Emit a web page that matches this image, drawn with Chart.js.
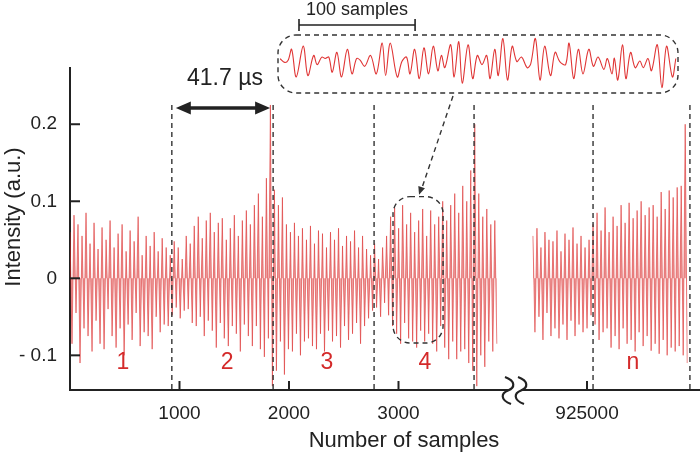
<!DOCTYPE html>
<html>
<head>
<meta charset="utf-8">
<script src="https://cdn.jsdelivr.net/npm/chart.js@4.4.0/dist/chart.umd.min.js"></script>
<style>
    html, body { margin: 0; padding: 0; background: #fff; }
    #marco { position: relative; width: 700px; height: 456px; }
    #marco canvas { position: absolute; }
</style>
</head>
<body>
<div id="marco">
    <canvas id="graficaTramo1" width="700" height="456" style="left:0;top:0"></canvas>
    <canvas id="graficaTramo2" width="700" height="456" style="left:0;top:0"></canvas>
    <canvas id="graficaDetalle" width="397" height="56" style="left:280px;top:33px"></canvas>
</div>
<script>
// Intensidad (a.u.), una muestra dibujada cada pasoMuestras
var pasoMuestras = 18.3;

var inicioTramo1 = 0;
var senalTramo1 = [
    .060, -.085, .082, -.045, .070, -.110, .055, -.065, .085, -.075,
    .045, -.095, .072, -.055, .038, -.085, .066, -.092, .050, -.040,
    .075, -.075, .040, -.090, .058, -.065, .070, -.100, .035, -.060,
    .062, -.080, .048, -.045, .080, -.088, .030, -.070, .055, -.075,
    .042, -.092, .060, -.050, .035, -.070, .052, -.060, .040, -.062,
    .030, -.048, .048, -.038, .040, -.052, .025, -.042, .055, -.040,
    .045, -.058, .068, -.062, .080, -.050, .052, -.075, .075, -.055,
    .085, -.068, .060, -.090, .072, -.058, .078, -.078, .050, -.088,
    .065, -.062, .082, -.072, .055, -.095, .075, -.060, .088, -.075,
    .070, -.088, .095, -.062, .110, -.092, .080, -.102, .130, -.078,
    .225, -.140, .115, -.120, .095, -.082, .105, -.125, .070, -.092,
    .060, -.095, .072, -.072, .055, -.100, .065, -.082, .050, -.078,
    .068, -.088, .045, -.092, .062, -.072, .058, -.095, .040, -.068,
    .060, -.082, .050, -.075, .065, -.090, .042, -.062, .055, -.080,
    .048, -.072, .062, -.058, .040, -.085, .055, -.062, .038, -.052,
    .030, -.042, .045, -.038, .025, -.050, .040, -.032, .055, -.048,
    .080, -.062, .092, -.072, .065, -.085, .095, -.058, .070, -.078,
    .085, -.082, .060, -.090, .075, -.068, .090, -.082, .055, -.072,
    .088, -.085, .070, -.095, .080, -.062, .100, -.090, .075, -.105,
    .095, -.082, .110, -.105, .085, -.095, .120, -.092, .100, -.110,
    .140, -.120, .200, -.140, .110, -.100, .080, -.115, .090, -.082,
    .070, -.095, .075, -.085
];

var inicioTramo2 = 924506;
var senalTramo2 = [
    .055, -.070, .065, -.050, .040, -.080, .060, -.045, .050, -.075,
    .048, -.065, .062, -.078, .035, -.060, .058, -.080, .050, -.055,
    .066, -.075, .045, -.060, .055, -.070, .040, -.065, .050, -.048,
    .070, -.060, .085, -.080, .062, -.070, .092, -.065, .060, -.090,
    .080, -.075, .068, -.092, .095, -.065, .072, -.085, .098, -.080,
    .078, -.095, .088, -.070, .100, -.088, .082, -.075, .092, -.094,
    .095, -.085, .080, -.098, .112, -.080, .090, -.100, .114, -.090,
    .105, -.095, .118, -.088, .120, -.100, .200, -.110
];

var ticksY = [-0.1, 0, 0.1, 0.2];
var ticksTramo1 = [1000, 2000, 3000];
var ticksTramo2 = [925000];

// lineas discontinuas entre pulsos y numero de cada tramo
var marcasTramo1 = [930, 1855, 2777, 3690];
var marcasTramo2 = [925055, 925940];
var etiquetasTramo1 = ['1', '2', '3', '4'];
var centrosTramo1 = [484, 1434, 2347, 3242];
var etiquetasTramo2 = ['n'];
var centrosTramo2 = [925420];

// detalle ampliado (muestra relativa, intensidad)
var muestrasDetalle = [0, 4, 7, 10, 14, 20, 24, 29, 32, 36, 39, 42, 45, 49, 53, 58, 62, 66, 69, 73,
    78, 83, 88, 91, 95, 101, 105, 109, 112, 116, 120, 124, 128, 132, 136, 139, 142, 147, 150, 154,
    157, 162, 166, 170, 174, 178, 181, 185, 188, 192, 196, 200, 204, 208, 213, 216, 220, 224, 228, 233,
    237, 241, 246, 249, 253, 257, 261, 266, 270, 274, 279, 282, 286, 288, 291, 295, 298, 302, 306, 310,
    313, 317, 320, 325, 329, 333, 338, 341];
var senalDetalle = [.008, -.005, .003, .042, -.057, .053, -.052, .020, -.013, .014, .009, .014, -.040, .031, -.057, .042, -.046, .009, .003, -.019,
    .020, -.046, .064, -.052, .064, -.057, -.002, .014, -.046, .042, -.063, .047, -.046, .053, -.035, .020, -.024, .058, -.057, .069,
    -.079, .058, -.063, .020, -.013, .020, -.063, .042, -.052, .080, -.068, .053, -.002, .014, -.024, -.010, .080, -.068, .053, -.052,
    .031, -.002, -.013, .064, -.063, .042, -.046, .042, -.019, .014, -.030, .009, -.046, .010, -.068, .058, -.063, .031, -.024, .000,
    -.024, .009, -.035, .058, -.095, .053, -.057, .009];

var fuente = '"Liberation Sans", Arial, sans-serif';
var colorEje = '#222';
var colorRojo = '#d42a2a';
var colorSenal = 'rgba(218, 38, 38, 0.55)';
var rellenoSenal = 'rgba(214, 40, 40, 0.45)';

function puntos(inicio, senal) {
    return senal.map(function (v, i) {
        return { x: inicio + i * pasoMuestras, y: v };
    });
}

function lineaDiscontinua(ctx, x1, y1, x2, y2) {
    ctx.save();
    ctx.strokeStyle = '#333';
    ctx.lineWidth = 1.4;
    ctx.setLineDash([5, 4]);
    ctx.beginPath();
    ctx.moveTo(x1, y1);
    ctx.lineTo(x2, y2);
    ctx.stroke();
    ctx.restore();
}

function rectRedondeado(ctx, x, y, w, h, r) {
    ctx.beginPath();
    ctx.moveTo(x + r, y);
    ctx.lineTo(x + w - r, y);
    ctx.arcTo(x + w, y, x + w, y + r, r);
    ctx.lineTo(x + w, y + h - r);
    ctx.arcTo(x + w, y + h, x + w - r, y + h, r);
    ctx.lineTo(x + r, y + h);
    ctx.arcTo(x, y + h, x, y + h - r, r);
    ctx.lineTo(x, y + r);
    ctx.arcTo(x, y, x + r, y, r);
    ctx.closePath();
}

function puntaFlecha(ctx, x, y, ang, largo, ancho) {
    var c = Math.cos(ang), s = Math.sin(ang);
    ctx.beginPath();
    ctx.moveTo(x, y);
    ctx.lineTo(x - largo * c + ancho * s, y - largo * s - ancho * c);
    ctx.lineTo(x - largo * c - ancho * s, y - largo * s + ancho * c);
    ctx.closePath();
    ctx.fill();
}

function ondaCorte(ctx, x, y, alto) {
    ctx.beginPath();
    ctx.moveTo(x - 3, y);
    ctx.bezierCurveTo(x + 8, y + alto * 0.15, x + 7, y + alto * 0.4, x, y + alto * 0.5);
    ctx.bezierCurveTo(x - 7, y + alto * 0.6, x - 8, y + alto * 0.85, x + 3, y + alto);
    ctx.stroke();
}

// marcas de eje hacia dentro, lineas discontinuas y numeros de tramo
function pluginTramos(ticksX, marcas, etiquetas, centros, conEjeY) {
    return {
        id: 'tramos',
        afterDraw: function (chart) {
            var ctx = chart.ctx;
            var area = chart.chartArea;
            var xs = chart.scales.x, ys = chart.scales.y;
            ctx.save();
            ctx.strokeStyle = colorEje;
            ctx.lineWidth = 2;
            ticksX.forEach(function (t) {
                var px = xs.getPixelForValue(t);
                ctx.beginPath();
                ctx.moveTo(px, area.bottom);
                ctx.lineTo(px, area.bottom - 9);
                ctx.stroke();
            });
            if (conEjeY) {
                ticksY.forEach(function (t) {
                    var py = ys.getPixelForValue(t);
                    ctx.beginPath();
                    ctx.moveTo(area.left, py);
                    ctx.lineTo(area.left + 10, py);
                    ctx.stroke();
                });
            }
            marcas.forEach(function (m) {
                var px = xs.getPixelForValue(m);
                lineaDiscontinua(ctx, px, ys.getPixelForValue(0.225), px, area.bottom);
            });
            ctx.fillStyle = colorRojo;
            ctx.font = '23px ' + fuente;
            ctx.textAlign = 'center';
            ctx.textBaseline = 'middle';
            etiquetas.forEach(function (e, i) {
                ctx.fillText(e, xs.getPixelForValue(centros[i]), ys.getPixelForValue(-0.109));
            });
            ctx.restore();
        }
    };
}

// flecha 41.7 us, recuadros del detalle, titulos y corte del eje
var pluginAnotaciones = {
    id: 'anotaciones',
    afterDraw: function (chart) {
        var ctx = chart.ctx;
        var area = chart.chartArea;
        var xs = chart.scales.x, ys = chart.scales.y;
        ctx.save();

        var xa = xs.getPixelForValue(marcasTramo1[0]) + 4;
        var xb = xs.getPixelForValue(marcasTramo1[1]) - 3;
        var yf = ys.getPixelForValue(0.221);
        ctx.strokeStyle = colorEje;
        ctx.fillStyle = colorEje;
        ctx.lineWidth = 3.5;
        ctx.beginPath();
        ctx.moveTo(xa + 10, yf);
        ctx.lineTo(xb - 10, yf);
        ctx.stroke();
        puntaFlecha(ctx, xa, yf, Math.PI, 15, 6.5);
        puntaFlecha(ctx, xb, yf, 0, 15, 6.5);
        ctx.font = '23px ' + fuente;
        ctx.textAlign = 'center';
        ctx.textBaseline = 'middle';
        ctx.fillText('41.7 \u00b5s', (xa + xb) / 2 + 2, yf - 29);

        // recuadro alrededor del tramo 4
        ctx.strokeStyle = '#333';
        ctx.lineWidth = 1.4;
        ctx.setLineDash([5, 4]);
        var bx1 = xs.getPixelForValue(2950), bx2 = xs.getPixelForValue(3407);
        var by1 = ys.getPixelForValue(0.106), by2 = ys.getPixelForValue(-0.084);
        rectRedondeado(ctx, bx1, by1, bx2 - bx1, by2 - by1, 17);
        ctx.stroke();

        // recuadro del detalle
        rectRedondeado(ctx, 278, 35, 400, 58, 18);
        ctx.stroke();

        // flecha del detalle al tramo 4
        var xc = (bx1 + bx2) / 2 + 1;
        ctx.beginPath();
        ctx.moveTo(453, 96);
        ctx.lineTo(xc + 2, by1 - 6);
        ctx.stroke();
        ctx.setLineDash([]);
        ctx.fillStyle = '#333';
        puntaFlecha(ctx, xc, by1 - 2, Math.atan2(by1 - 96, xc - 453), 8, 3.5);

        // barra de 100 muestras
        var anchoBarra = 100 * 397 / 342;
        ctx.strokeStyle = colorEje;
        ctx.lineWidth = 1.6;
        ctx.beginPath();
        ctx.moveTo(299, 25);
        ctx.lineTo(299 + anchoBarra, 25);
        ctx.moveTo(299, 19);
        ctx.lineTo(299, 31);
        ctx.moveTo(299 + anchoBarra, 19);
        ctx.lineTo(299 + anchoBarra, 31);
        ctx.stroke();
        ctx.fillStyle = colorEje;
        ctx.font = '18px ' + fuente;
        ctx.fillText('100 samples', 299 + anchoBarra / 2, 10);

        // titulos de los ejes
        ctx.font = '22px ' + fuente;
        ctx.fillText('Number of samples', 404, 441);
        ctx.save();
        ctx.translate(14, 217);
        ctx.rotate(-Math.PI / 2);
        ctx.fillText('Intensity (a.u.)', 0, 0);
        ctx.restore();

        // corte del eje x
        ctx.lineWidth = 2.2;
        ondaCorte(ctx, 508, area.bottom - 13, 27);
        ondaCorte(ctx, 521, area.bottom - 13, 27);
        ctx.restore();
    }
};

function ejeX(xMin, xMax, ticksX) {
    return {
        type: 'linear',
        min: xMin,
        max: xMax,
        afterBuildTicks: function (eje) {
            eje.ticks = ticksX.map(function (v) { return { value: v }; });
        },
        afterFit: function (eje) { eje.height = 66; },
        grid: { display: false, drawTicks: false },
        border: { display: true, color: colorEje, width: 2 },
        ticks: {
            padding: 12,
            color: colorEje,
            autoSkip: false,
            maxRotation: 0,
            font: { family: fuente, size: 19 },
            callback: function (v) { return String(v); }
        }
    };
}

function serieSenal(inicio, senal) {
    return {
        data: puntos(inicio, senal),
        borderColor: colorSenal,
        backgroundColor: rellenoSenal,
        fill: 'origin',
        borderWidth: 1,
        pointRadius: 0,
        tension: 0
    };
}

function crearGraficaTramo1() {
    var datos = {
        datasets: [serieSenal(inicioTramo1, senalTramo1)]
    };

    var opciones = {
        responsive: false,
        animation: false,
        events: [],
        layout: { padding: { top: 68, right: 192, left: 0, bottom: 0 } },
        plugins: { legend: { display: false }, tooltip: { enabled: false } },
        scales: {
            x: ejeX(0, 4000, ticksTramo1),
            y: {
                min: -0.145,
                max: 0.273,
                afterBuildTicks: function (eje) {
                    eje.ticks = ticksY.map(function (v) { return { value: v }; });
                },
                afterFit: function (eje) { eje.width = 70; },
                grid: { display: false, drawTicks: false },
                border: { display: true, color: colorEje, width: 2 },
                ticks: {
                    padding: 13,
                    color: colorEje,
                    font: { family: fuente, size: 19 },
                    callback: function (v) { return v < 0 ? '- ' + Math.abs(v) : String(v); }
                }
            }
        }
    };

    var ctx = document.getElementById('graficaTramo1').getContext('2d');
    new Chart(ctx, {
        type: 'line',
        data: datos,
        options: opciones,
        plugins: [pluginTramos(ticksTramo1, marcasTramo1, etiquetasTramo1, centrosTramo1, true), pluginAnotaciones]
    });
}

function crearGraficaTramo2() {
    var datos = {
        datasets: [serieSenal(inicioTramo2, senalTramo2)]
    };

    var opciones = {
        responsive: false,
        animation: false,
        events: [],
        layout: { padding: { top: 68, right: 0, left: 522, bottom: 0 } },
        plugins: { legend: { display: false }, tooltip: { enabled: false } },
        scales: {
            x: ejeX(924406, 926032, ticksTramo2),
            y: { display: false, min: -0.145, max: 0.273 }
        }
    };

    var ctx = document.getElementById('graficaTramo2').getContext('2d');
    new Chart(ctx, {
        type: 'line',
        data: datos,
        options: opciones,
        plugins: [pluginTramos(ticksTramo2, marcasTramo2, etiquetasTramo2, centrosTramo2, false)]
    });
}

function crearGraficaDetalle() {
    var datos = {
        datasets: [{
            data: muestrasDetalle.map(function (m, i) { return { x: m, y: senalDetalle[i] }; }),
            borderColor: '#e03535',
            borderWidth: 1.1,
            pointRadius: 0,
            tension: 0.35
        }]
    };

    var opciones = {
        responsive: false,
        animation: false,
        events: [],
        layout: { padding: 0 },
        plugins: { legend: { display: false }, tooltip: { enabled: false } },
        scales: {
            x: { type: 'linear', display: false, min: 0, max: 342 },
            y: { display: false, min: -0.1, max: 0.1 }
        }
    };

    var ctx = document.getElementById('graficaDetalle').getContext('2d');
    new Chart(ctx, {
        type: 'line',
        data: datos,
        options: opciones
    });
}

crearGraficaTramo1();
crearGraficaTramo2();
crearGraficaDetalle();
</script>
</body>
</html>
